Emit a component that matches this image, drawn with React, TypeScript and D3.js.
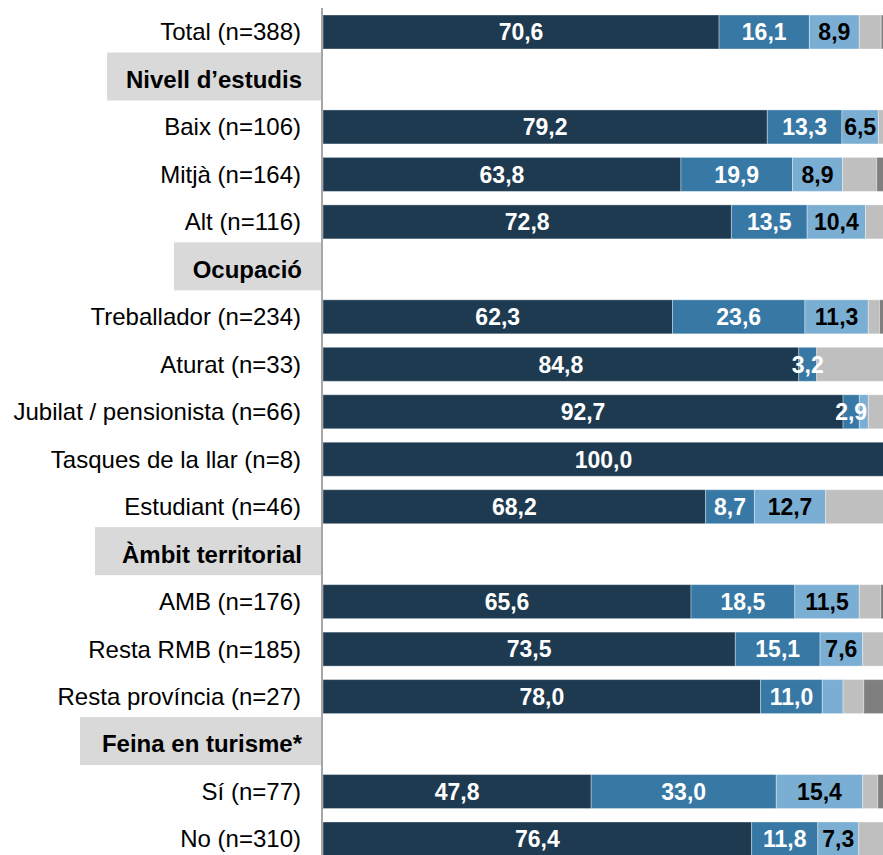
import React from "react";
import * as d3 from "d3";

const rows = [
  "Total (n=388)",
  "Nivell d’estudis",
  "Baix (n=106)",
  "Mitjà (n=164)",
  "Alt (n=116)",
  "Ocupació",
  "Treballador (n=234)",
  "Aturat (n=33)",
  "Jubilat / pensionista (n=66)",
  "Tasques de la llar (n=8)",
  "Estudiant (n=46)",
  "Àmbit territorial",
  "AMB (n=176)",
  "Resta RMB (n=185)",
  "Resta província (n=27)",
  "Feina en turisme*",
  "Sí (n=77)",
  "No (n=310)",
];
const headerRows = ["Nivell d’estudis", "Ocupació", "Àmbit territorial", "Feina en turisme*"];

// values per row (null for header rows)
const s1 = [70.6, null, 79.2, 63.8, 72.8, null, 62.3, 84.8, 92.7, 100.0, 68.2, null, 65.6, 73.5, 78.0, null, 47.8, 76.4];
const s2 = [16.1, null, 13.3, 19.9, 13.5, null, 23.6, 3.2, 2.9, 0, 8.7, null, 18.5, 15.1, 11.0, null, 33.0, 11.8];
const s3 = [8.9, null, 6.5, 8.9, 10.4, null, 11.3, 0, 1.6, 0, 12.7, null, 11.5, 7.6, 3.7, null, 15.4, 7.3];
const s4 = [3.9, null, 1.0, 6.1, 3.3, null, 2.0, 12.0, 2.8, 0, 10.4, null, 3.8, 3.8, 3.7, null, 2.7, 4.5];
const s5 = [0.5, null, 0, 1.3, 0, null, 0.8, 0, 0, 0, 0, null, 0.6, 0, 3.6, null, 1.1, 0];

const seriesColors = ["#1e3a50", "#3878a5", "#7aaed3", "#bfbfbf", "#7f7f7f"];
const labelColors = ["#ffffff", "#ffffff", "#000000", "#000000", "#000000"];
const labelMin = [2, 2, 5, 1000, 1000];

// left edge of the grey header boxes (style)
const headerBoxLeft: Record<string, number> = {
  "Nivell d’estudis": 107,
  "Ocupació": 174,
  "Àmbit territorial": 95,
  "Feina en turisme*": 80,
};

const W = 883;
const H = 855;
const axisX = 322;
const plotLeft = 323;
const plotRight = 884;
const font = "Liberation Sans, Arial, sans-serif";
const catSize = 24;
const valSize = 23;

export default function App() {
  const x = d3.scaleLinear().domain([0, 100]).range([plotLeft, plotRight]);
  const y = d3.scalePoint<string>().domain(rows).range([32, 839]);
  const barH = 34;
  const allSeries = [s1, s2, s3, s4, s5];

  const data = rows.map((r, i) => ({
    row: r,
    vals: allSeries.map((s) => s[i]),
  }));

  return (
    <svg
      width={W}
      height={H}
      style={{ position: "absolute", left: 0, top: 0, background: "#fff", fontFamily: font }}
    >
      {data.map((d) => {
        const cy = y(d.row)!;
        if (headerRows.includes(d.row)) {
          const left = headerBoxLeft[d.row];
          return (
            <g key={d.row}>
              <rect x={left} y={cy - 27} width={321 - left} height={48} fill="#d9d9d9" />
              <text
                x={302}
                y={cy}
                dy="0.35em"
                textAnchor="end"
                fontSize={catSize}
                fontWeight="bold"
                fill="#000"
              >
                {d.row}
              </text>
            </g>
          );
        }
        let acc = 0;
        const segs = d.vals.map((v, k) => {
          const val = v ?? 0;
          const x0 = x(acc);
          acc += val;
          const x1 = x(acc);
          return { k, val, x0, x1 };
        });
        return (
          <g key={d.row}>
            <text x={301} y={cy} dy="0.35em" textAnchor="end" fontSize={catSize} fill="#000">
              {d.row}
            </text>
            {segs.map((s) =>
              s.val > 0 ? (
                <rect
                  key={s.k}
                  x={s.x0}
                  y={cy - barH / 2}
                  width={Math.max(0, s.x1 - s.x0)}
                  height={barH}
                  fill={seriesColors[s.k]}
                  stroke="#ffffff"
                  strokeOpacity={0.35}
                  strokeWidth={1}
                />
              ) : null
            )}
            {segs.map((s) =>
              s.val >= labelMin[s.k] ? (
                <text
                  key={"l" + s.k}
                  x={(s.x0 + s.x1) / 2}
                  y={cy}
                  dy="0.36em"
                  textAnchor="middle"
                  fontSize={valSize}
                  fontWeight="bold"
                  fill={labelColors[s.k]}
                >
                  {d3.format(".1f")(s.val).replace(".", ",")}
                </text>
              ) : null
            )}
          </g>
        );
      })}
      <line x1={axisX} x2={axisX} y1={8} y2={H} stroke="#a6a6a6" strokeWidth={2} />
    </svg>
  );
}
